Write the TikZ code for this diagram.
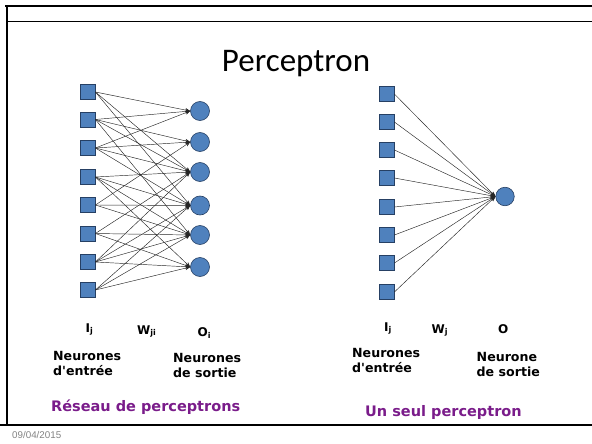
\documentclass[tikz,border=0pt]{standalone}
\usepackage{fontspec}
\setmainfont{DejaVu Sans}
\newfontfamily\titlefont{Carlito}
\newfontfamily\datefont{Liberation Sans}
\usetikzlibrary{arrows.meta}
\definecolor{nodeblue}{RGB}{79,129,189}
\definecolor{nodeedge}{RGB}{38,64,100}
\definecolor{captioncol}{RGB}{122,28,138}
\definecolor{dategray}{RGB}{130,130,130}

\begin{document}
\begin{tikzpicture}[x=1pt,y=-1pt,
  inp/.style={rectangle, draw=nodeedge, fill=nodeblue, minimum size=15pt, inner sep=0pt, line width=0.8pt},
  outp/.style={circle, draw=nodeedge, fill=nodeblue, minimum size=19pt, inner sep=0pt, line width=0.6pt},
  link/.style={draw=black!85, line width=0.45pt, -{Stealth[length=5pt,width=4pt]}},
  lbl/.style={font=\bfseries\fontsize{12}{13}\selectfont, inner sep=0pt, anchor=base west},
  desc/.style={font=\bfseries\fontsize{12.6}{15}\selectfont, align=left, anchor=north west, inner sep=0pt},
  capt/.style={font=\bfseries\fontsize{14.5}{16}\selectfont, text=captioncol, inner sep=0pt, anchor=base west}]

\useasboundingbox (0,0) rectangle (592,444);

% slide frame
\draw[line width=2pt] (5,6) -- (592,6);
\draw[line width=1.7pt] (7,6) -- (7,426);
\draw[line width=1pt] (7,22) -- (592,22);
\draw[line width=1.2pt] (0,425) -- (592,425);

\node[font=\titlefont\fontsize{33}{35}\selectfont, anchor=base, inner sep=0pt] (title) at (296,71) {Perceptron};

% ---- network of perceptrons ----
\foreach \k/\y in {1/92,2/119.5,3/148,4/177,5/205,6/233.5,7/262,8/290}
  \node[inp] (i\k) at (87.5,\y) {};
\foreach \k/\y in {1/111,2/142,3/172,4/205.5,5/235,6/267}
  \node[outp] (o\k) at (200,\y) {};

\foreach \a/\b in {1/1,1/3,1/4,
                   2/1,2/2,2/3,2/5,
                   3/1,3/2,3/3,3/4,
                   4/3,4/4,4/5,4/6,
                   5/2,5/4,5/5,
                   6/3,6/5,6/6,
                   7/3,7/4,7/5,7/6,
                   8/4,8/5,8/6}
  \draw[link] (i\a.east) -- (o\b.west);

\node[lbl] (lij) at (85.5,332) {I\textsubscript{j}};
\node[lbl] (lwji) at (137,334) {W\textsubscript{ji}};
\node[lbl] (loi) at (197.5,336.5) {O\textsubscript{i}};

\node[desc] (lin) at (53,351.5) {Neurones\\d\textquotesingle entrée};
\node[desc] (lout) at (173,353) {Neurones\\de sortie};
\node[capt] (lcap) at (51,411) {Réseau de perceptrons};

% ---- single perceptron ----
\foreach \k/\y in {1/94,2/122,3/150,4/178,5/207,6/235,7/263,8/292}
  \node[inp] (r\k) at (386.5,\y) {};
\node[outp, minimum size=18.5pt] (out) at (505,196.5) {};
\foreach \k in {1,...,8}
  \draw[link] (r\k.east) -- (out.west);

\node[lbl] (rij) at (384,331) {I\textsubscript{j}};
\node[lbl] (rwj) at (431.5,333) {W\textsubscript{j}};
\node[lbl] (ro) at (498,333.5) {O};

\node[desc] (rin) at (352,348.5) {Neurones\\d\textquotesingle entrée};
\node[desc] (rout) at (476.5,352) {Neurone\\de sortie};
\node[capt] (rcap) at (365,416) {Un seul perceptron};

\node[font=\datefont\fontsize{9.8}{10}\selectfont, text=dategray, anchor=base west, inner sep=0pt] (date) at (12,438) {09/04/2015};
\end{tikzpicture}
\end{document}
